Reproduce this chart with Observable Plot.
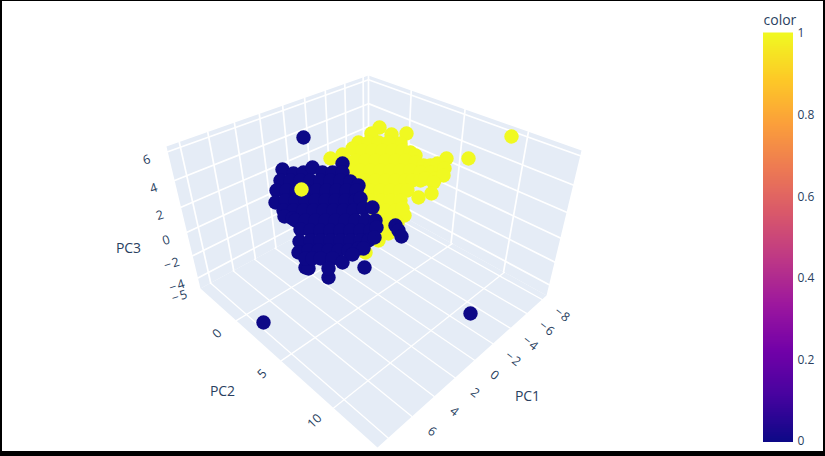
<!DOCTYPE html>
<html>
<head>
<meta charset="utf-8">
<script src="https://cdn.jsdelivr.net/npm/d3@7"></script>
<script src="https://cdn.jsdelivr.net/npm/@observablehq/plot@0.6"></script>
<style>
html,body{margin:0;padding:0;background:#000}
svg{display:block}
</style>
</head>
<body>
<div id="chart"></div>
<script>
// Tick values of the three principal-component axes
const pc1Ticks = [-8,-6,-4,-2,0,2,4,6,8];
const pc1Labels = [-8,-6,-4,-2,0,2,4,6];
const pc2Ticks = [0,5,10];
const pc3Ticks = [6,4,2,0,-2,-4,-5];
const colorTicks = [0,0.2,0.4,0.6,0.8,1];
const plasma = ["#0d0887","#46039f","#7201a8","#9c179e","#bd3786","#d8576b","#ed7953","#fb9f3a","#fdca26","#f0f921"];

// Scatter points (projected positions)
const class1Points = [
[379,127],[371,133],[391,134],[406,133],[400,143],[358,142],[368,142],[378,142],[388,142],
[352,148],[362,150],[372,150],[382,150],[392,150],[402,150],[410,152],[342,154],[330,158],[415,155],
[345,160],[355,160],[365,160],[375,160],[385,160],[395,160],[405,160],[415,162],[423,165],[430,165],[437,163],[446,158],
[350,170],[360,170],[370,170],[380,170],[390,170],[400,170],[410,170],[420,172],[430,172],[440,170],[444,168],
[355,180],[365,180],[375,180],[385,180],[395,180],[405,180],[412,180],[420,180],[425,178],[435,178],[443,175],[433,182],
[360,190],[370,190],[380,190],[390,190],[400,190],[407,190],[431,193],
[370,200],[380,200],[390,200],[400,200],[418,197],
[375,210],[385,210],[395,210],[404,215],[402,208],
[375,220],[385,220],[395,220],[397,223],
[375,230],[385,230],[388,233],[378,240],[365,252],
[468,158],[511,136]
];
const class0Points = [
[282,169],[293,173],[303,172],[312,167],[322,172],[332,172],[342,163],[342,172],
[280,180],[290,180],[300,180],[310,180],[320,180],[330,180],[340,180],[350,181],[358,185],
[276,190],[286,190],[296,190],[306,190],[316,190],[326,190],[336,190],[346,190],[356,190],
[275,202],[285,200],[295,200],[305,200],[315,200],[325,200],[335,200],[345,200],[355,200],[360,198],
[283,210],[293,210],[303,210],[313,210],[323,210],[333,210],[343,210],[353,210],[363,208],[372,207],
[284,216],[292,218],[295,220],[305,220],[315,220],[325,220],[335,220],[345,220],[355,220],[365,220],[375,220],
[300,229],[310,230],[320,230],[330,230],[340,230],[350,230],[360,230],[370,230],[376,227],
[299,241],[310,240],[320,240],[330,240],[340,240],[350,240],[360,240],[368,240],[374,237],
[298,252],[308,250],[318,250],[328,250],[338,250],[348,250],[358,248],[363,248],
[305,267],[308,268],[305,258],[312,258],[320,258],[332,258],[342,262],[328,277],[328,268],[352,254],
[395,225],[398,230],[401,236],
[364,267],[303,137],[263,322],[470,313]
];
const class1Front = [[301,189]];

// Camera: the box corners on the page and the axis ranges they stand for
const pc1Range = [-8.6, 8.85];
const pc2Range = [-4.6, 13.6];
const pc3Range = [-5, 6.35];
const back=[368,197], left=[200,288], front=[377,447], right=[546,295],
      topBack=[368,75], topLeft=[166,146], topRight=[581,150];

function quad(p00,p10,p11,p01){
  const [x0,y0]=p00,[x1,y1]=p10,[x2,y2]=p11,[x3,y3]=p01;
  const dx1=x1-x2,dx2=x3-x2,sx=x0-x1+x2-x3,dy1=y1-y2,dy2=y3-y2,sy=y0-y1+y2-y3;
  const den=dx1*dy2-dx2*dy1;
  const g=(sx*dy2-dx2*sy)/den,h=(dx1*sy-sx*dy1)/den;
  const a=x1-x0+g*x1,b=x3-x0+h*x3,d=y1-y0+g*y1,e=y3-y0+h*y3;
  return (u,v)=>{const w=g*u+h*v+1;return [(a*u+b*v+x0)/w,(d*u+e*v+y0)/w];};
}
const n1=v=>(v-pc1Range[0])/(pc1Range[1]-pc1Range[0]);
const n2=v=>(v-pc2Range[0])/(pc2Range[1]-pc2Range[0]);
const n3=v=>(v-pc3Range[0])/(pc3Range[1]-pc3Range[0]);
const floorQ=quad(back,left,front,right);
const leftQ=quad(back,left,topLeft,topBack);
const rightQ=quad(back,right,topRight,topBack);

const walls=[
  {k:"f",p:[back,left,front,right]},
  {k:"l",p:[back,left,topLeft,topBack]},
  {k:"r",p:[back,right,topRight,topBack]}
].flatMap(w=>w.p.concat([w.p[0]]).map(p=>({k:w.k,x:p[0],y:p[1]})));

const seg=(id,a,b)=>[{id,x:a[0],y:a[1]},{id,x:b[0],y:b[1]}];
const floorGrid=[
  ...pc1Ticks.flatMap(t=>seg("a"+t,floorQ(n1(t),0),floorQ(n1(t),1))),
  ...pc2Ticks.flatMap(t=>seg("c"+t,floorQ(0,n2(t)),floorQ(1,n2(t))))
];
const wallGrid=[
  ...pc1Ticks.flatMap(t=>seg("b"+t,leftQ(n1(t),0),leftQ(n1(t),1))),
  ...pc2Ticks.flatMap(t=>seg("d"+t,rightQ(n2(t),0),rightQ(n2(t),1))),
  ...pc3Ticks.filter(t=>t>-5).flatMap(t=>seg("e"+t,leftQ(0,n3(t)),leftQ(1,n3(t)))),
  ...pc3Ticks.filter(t=>t>-5).flatMap(t=>seg("g"+t,rightQ(0,n3(t)),rightQ(1,n3(t)))),
  ...seg("corner",back,topBack)
];

const barY=d3.scaleLinear([0,1],[441,33]);
const samples=d3.range(0,204).map(i=>i/204);

const ink="#2a3f5f", font="'Open Sans', Verdana, sans-serif";
const tick=(data,xf,yf,rot)=>Plot.text(data,{x:xf,y:yf,text:d=>String(d).replace("-","\u2212\u200a"),rotate:rot,fill:ink,fontSize:12.5,fontFamily:font,textAnchor:"middle",lineAnchor:"middle"});
const title=(s,x,y)=>Plot.text([s],{x:()=>x,y:()=>y,text:d=>d,fill:ink,fontSize:14,fontFamily:font,textAnchor:"middle",lineAnchor:"middle"});
const pts=(data,v)=>Plot.dot(data,{x:d=>d[0],y:d=>d[1],r:7.2,fill:()=>v,stroke:"none"});

const plot=Plot.plot({
  width:825,height:456,margin:0,
  style:{background:"#000",fontFamily:font},
  x:{domain:[0,825],range:[0,825],axis:null},
  y:{domain:[0,456],range:[0,456],axis:null},
  color:{type:"linear",domain:plasma.map((_,i)=>i/9),range:plasma,interpolate:"rgb"},
  marks:[
    Plot.rect([0],{x1:()=>2,x2:()=>823,y1:()=>1,y2:()=>451,fill:"#fff",inset:0}),
    Plot.line(walls,{x:"x",y:"y",z:"k",fill:"#E5ECF6",stroke:"none"}),
    Plot.line(floorGrid,{x:"x",y:"y",z:"id",stroke:"#fff",strokeWidth:1.3}),
    Plot.line(wallGrid,{x:"x",y:"y",z:"id",stroke:"#fff",strokeWidth:1.7}),
    pts(class1Points,1),
    pts(class0Points,0),
    pts(class1Front,1),
    tick(pc1Labels,d=>floorQ(n1(d),1)[0]+20,d=>floorQ(n1(d),1)[1]+15,38),
    tick(pc2Ticks,d=>floorQ(1,n2(d))[0]-19,d=>floorQ(1,n2(d))[1]+13,-45),
    tick(pc3Ticks,d=>leftQ(1,n3(d))[0]-21,d=>leftQ(1,n3(d))[1]+8,-18),
    title("PC1",527,396),
    title("PC2",222,391),
    title("PC3",128,248),
    Plot.rect(samples,{x1:()=>763,x2:()=>793,y1:d=>barY(d)+1,y2:d=>barY(d+1/204)-0.5,fill:d=>d,inset:0}),
    Plot.text(colorTicks,{x:()=>797,y:d=>barY(d),text:d=>String(d),fill:ink,fontSize:12,fontFamily:font,textAnchor:"start",lineAnchor:"middle"}),
    Plot.text(["color"],{x:()=>763,y:()=>20,text:d=>d,fill:ink,fontSize:14,fontFamily:font,textAnchor:"start",lineAnchor:"middle"})
  ]
});
document.getElementById("chart").appendChild(plot);
</script>
</body>
</html>
